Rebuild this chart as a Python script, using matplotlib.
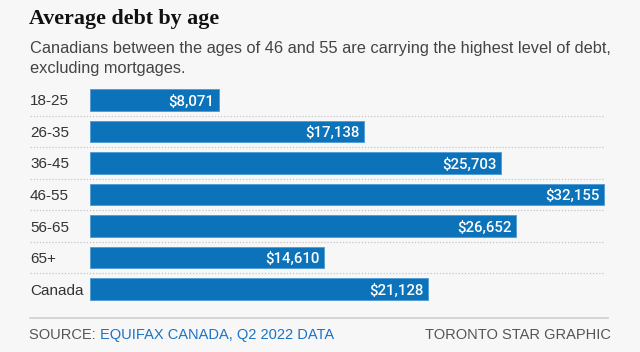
import matplotlib
matplotlib.use("Agg")
import matplotlib.pyplot as plt

categories = ["18-25", "26-35", "36-45", "46-55", "56-65", "65+", "Canada"]
values = [8071, 17138, 25703, 32155, 26652, 14610, 21128]
value_labels = ["$8,071", "$17,138", "$25,703", "$32,155", "$26,652", "$14,610", "$21,128"]

W, H = 640, 352
BG = "#f7f7f7"
BAR = "#0c72b9"
plt.rcParams['font.family'] = ['Liberation Sans', 'DejaVu Sans']

fig = plt.figure(figsize=(W / 100, H / 100), dpi=100, facecolor=BG)

def fx(px):
    return px / W

def fy(py):
    return 1 - py / H

# axes for bars
ax_left, ax_right = 90, 610
ax_top, ax_bot = 84.2, 304.8
ax = fig.add_axes([fx(ax_left), fy(ax_bot), (ax_right - ax_left) / W, (ax_bot - ax_top) / H])
ax.set_facecolor(BG)
xmax = max(values) * (ax_right - ax_left) / 514.4
ax.set_xlim(0, xmax)
ax.set_ylim(len(categories) - 0.5, -0.5)
ypos = list(range(len(categories)))
ax.barh(ypos, values, height=0.69, color=BAR, edgecolor="#4d9bd6", linewidth=0.6)
for y, v, lab in zip(ypos, values, value_labels):
    ax.text(v - xmax * 4.5 / (ax_right - ax_left), y, lab, ha="right", va="center_baseline",
            color="white", fontsize=10.8, fontweight="medium", family=["Roboto", "DejaVu Sans"])
for y in ypos[:-1]:
    ax.axhline(y + 0.5, xmin=-60 / (ax_right - ax_left), xmax=(605 - ax_left) / (ax_right - ax_left),
               color="#c4c4c4", linestyle=(0, (1, 1.5)), linewidth=0.9, clip_on=False)
ax.set_yticks(ypos)
ax.set_yticklabels(categories)
ax.tick_params(axis="y", length=0, pad=0, labelsize=11, labelcolor="#333333")
for t in ax.get_yticklabels():
    t.set_horizontalalignment("left")
    t.set_x(-60 / (ax_right - ax_left))
    t.set_transform(ax.get_yaxis_transform())
ax.set_xticks([])
for s in ax.spines.values():
    s.set_visible(False)

# titles
fig.text(fx(29), fy(19), "Average debt by age", ha="left", va="center",
         fontsize=15.8, fontweight="bold",
         family=["Liberation Serif", "DejaVu Serif"], color="#111111")
fig.text(fx(30), fy(48), "Canadians between the ages of 46 and 55 are carrying the highest level of debt,",
         ha="left", va="center", fontsize=11.8, color="#444444")
fig.text(fx(30), fy(68), "excluding mortgages.", ha="left", va="center", fontsize=11.8, color="#444444")

# footer
fig.add_artist(plt.Line2D([fx(30), fx(608)], [fy(317.5), fy(317.5)], color="#cfcfcf", linewidth=1.2))
t1 = fig.text(fx(29), fy(335), "SOURCE: ", ha="left", va="center", fontsize=10.5, color="#555555")
fig.canvas.draw()
bb = t1.get_window_extent()
fig.text(bb.x1 / W, fy(335), "EQUIFAX CANADA, Q2 2022 DATA", ha="left", va="center",
         fontsize=10.5, color="#1a73c8")
fig.text(fx(425), fy(335), "TORONTO STAR GRAPHIC", ha="left", va="center", fontsize=10.5, color="#555555")

fig.savefig("out.png", dpi=100, facecolor=BG)
